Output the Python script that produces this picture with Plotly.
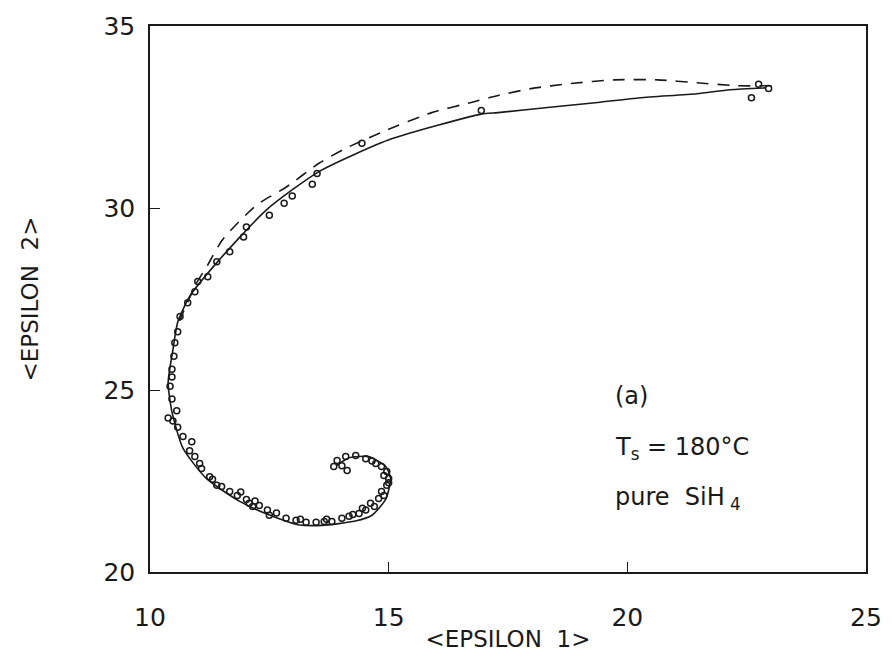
import plotly.graph_objects as go

# Measured data points (open circles)
data_x = [22.75, 22.96, 22.60, 16.94, 14.44, 13.50, 13.40, 12.98, 12.81, 12.50,
          12.02, 11.96, 11.67, 11.40, 11.21, 11.00, 10.94, 10.79, 10.63, 10.58,
          10.52, 10.50, 10.46, 10.46, 10.42, 10.46, 10.56, 10.38, 10.48, 10.58,
          10.69, 10.875, 10.83, 10.94, 11.04, 11.08, 11.25, 11.40, 11.50, 11.67,
          11.83, 12.02, 12.08, 12.29, 12.46, 12.50, 12.85, 13.06, 13.27, 13.48,
          13.65, 13.81, 14.02, 14.17, 14.38, 14.52, 14.62, 14.79, 14.85, 14.96,
          15.00, 14.96, 14.85, 14.73, 14.52, 14.31, 14.10, 13.92, 13.85, 14.13,
          14.02, 13.15, 13.70, 14.25, 14.45, 14.70, 14.90, 15.00, 14.90, 11.90,
          12.20, 12.65, 11.31, 12.15, 14.65]
data_y = [33.40, 33.28, 33.03, 32.68, 31.78, 30.95, 30.65, 30.33, 30.13, 29.80,
          29.48, 29.20, 28.80, 28.52, 28.11, 27.98, 27.70, 27.40, 27.02, 26.60,
          26.30, 25.93, 25.57, 25.36, 25.10, 24.75, 24.43, 24.23, 24.15, 23.98,
          23.72, 23.58, 23.33, 23.17, 22.98, 22.84, 22.62, 22.38, 22.35, 22.21,
          22.10, 21.99, 21.89, 21.83, 21.70, 21.56, 21.48, 21.42, 21.37, 21.37,
          21.39, 21.39, 21.48, 21.53, 21.61, 21.70, 21.89, 22.02, 22.21, 22.38,
          22.57, 22.76, 22.90, 22.98, 23.11, 23.20, 23.17, 23.06, 22.90, 22.79,
          22.92, 21.45, 21.45, 21.58, 21.75, 21.80, 22.10, 22.45, 22.65, 22.20,
          21.95, 21.62, 22.55, 21.80, 23.05]

# Solid model curve
solid_x = [22.90, 22.15, 21.46, 20.27, 19.38, 18.33, 17.29, 16.94, 15.06, 13.54,
           12.44, 11.40, 10.83, 10.58, 10.48, 10.38, 10.46, 10.69, 11.18, 11.88,
           12.57, 13.10, 13.60, 14.30, 14.65, 14.94, 15.04, 14.94, 14.58, 14.17,
           13.90]
solid_y = [33.30, 33.25, 33.14, 33.03, 32.90, 32.76, 32.62, 32.58, 31.90, 31.00,
           29.95, 28.50, 27.57, 26.86, 26.10, 25.20, 24.40, 23.40, 22.57, 21.94,
           21.53, 21.30, 21.28, 21.40, 21.56, 22.00, 22.57, 22.90, 23.17, 23.14,
           22.92]

# Dashed model curve
dash_x = [23.02, 22.29, 21.46, 20.63, 19.73, 18.81, 17.98, 17.29, 16.73, 15.90,
          14.94, 14.10, 13.54, 12.85, 12.23, 11.52, 11.19, 10.98, 10.80, 10.62]
dash_y = [33.36, 33.36, 33.44, 33.52, 33.52, 33.42, 33.28, 33.09, 32.90, 32.62,
          32.13, 31.64, 31.23, 30.57, 30.08, 29.13, 28.39, 27.95, 27.45, 26.90]

x_ticks = [10, 15, 20, 25]
y_ticks = [20, 25, 30, 35]

FONT = "DejaVu Sans"
INK = "#1a1a1a"

fig = go.Figure()
fig.add_trace(go.Scatter(x=dash_x, y=dash_y, mode="lines",
                         line=dict(color=INK, width=1.6, dash="12px,9px",
                                   shape="spline", smoothing=0.6),
                         showlegend=False))
fig.add_trace(go.Scatter(x=solid_x, y=solid_y, mode="lines",
                         line=dict(color=INK, width=1.6, shape="spline",
                                   smoothing=0.6),
                         showlegend=False))
fig.add_trace(go.Scatter(x=data_x, y=data_y, mode="markers",
                         marker=dict(symbol="circle-open", size=6, color=INK,
                                     line=dict(width=1.5, color=INK)),
                         showlegend=False))

fig.update_layout(
    width=894, height=660,
    margin=dict(l=150, r=24, t=25, b=86),
    paper_bgcolor="white", plot_bgcolor="white",
    font=dict(family=FONT, color=INK),
    xaxis=dict(range=[10, 25], tickvals=x_ticks, ticks="inside", ticklen=10,
               tickwidth=1.2, tickcolor=INK, showgrid=False, zeroline=False,
               showline=True, linecolor=INK, linewidth=1.6, mirror=True,
               tickfont=dict(size=25, family=FONT, color=INK),
               ticklabelstandoff=22,
               title=dict(text="&lt;EPSILON  1&gt;", standoff=0,
                          font=dict(size=23, family=FONT, color=INK))),
    yaxis=dict(range=[20, 35], tickvals=y_ticks, ticks="inside", ticklen=10,
               tickwidth=1.2, tickcolor=INK, showgrid=False, zeroline=False,
               showline=True, linecolor=INK, linewidth=1.6, mirror=True,
               tickfont=dict(size=25, family=FONT, color=INK),
               ticklabelstandoff=8,
               title=dict(text="&lt;EPSILON  2&gt;", standoff=58,
                          font=dict(size=23, family=FONT, color=INK))),
)

notes = ["(a)", "T<sub>s</sub> = 180°C", "pure  SiH<sub> 4</sub>"]
note_y = [0.322, 0.226, 0.135]
for t, yy in zip(notes, note_y):
    fig.add_annotation(text=t, x=0.646, y=yy, xref="paper", yref="paper",
                       xanchor="left", yanchor="middle", showarrow=False,
                       font=dict(size=24, family=FONT, color=INK))

fig.write_html("out.html")
